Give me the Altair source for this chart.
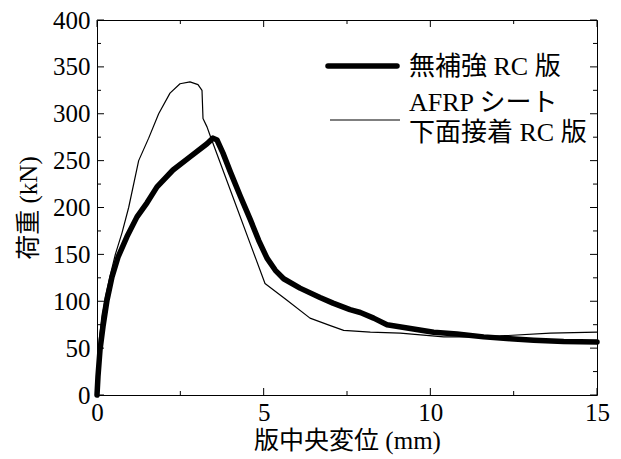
import altair as alt
import pandas as pd

# ---- data ----
unrein_x = [0, 0.03, 0.09, 0.18, 0.3, 0.45, 0.63, 0.9, 1.2, 1.5, 1.8, 2.28, 2.79, 3.3, 3.48, 3.6,
            3.78, 4.0, 4.3, 4.6, 4.85, 5.1, 5.35, 5.6, 6.09, 6.69, 7.08, 7.59, 7.9, 8.3, 8.7,
            9.4, 10.1, 10.8, 11.6, 12.4, 13.1, 14.0, 15.0]
unrein_y = [0, 20, 48, 73, 101, 126, 147, 169, 190, 205, 222, 240, 254, 268, 274, 272,
            258, 238, 212, 187, 165, 146, 133, 124, 114, 104, 98, 91, 88, 82, 75,
            71, 67, 65, 62, 60, 58.5, 57, 56.5]

afrp_x = [0, 0.02, 0.07, 0.15, 0.25, 0.4, 0.55, 0.75, 0.95, 1.25, 1.55, 1.85, 2.19, 2.49, 2.79,
          3.03, 3.15, 3.18, 3.3, 3.39, 4.08, 4.59, 5.04, 5.7, 6.39, 7.0, 7.4, 8.2, 9.1, 10.4,
          11.2, 12.1, 13.6, 15.0]
afrp_y = [0, 30, 60, 85, 105, 128, 150, 173, 200, 250, 274, 300, 322, 332, 334,
          331, 325, 295, 286, 277, 211, 162, 119, 101, 82, 74, 69, 67, 66, 62,
          62, 63, 66, 67]

x_major = [0, 5, 10, 15]
x_minor = [2.5, 7.5, 12.5]
y_major = [0, 50, 100, 150, 200, 250, 300, 350, 400]
y_minor = [25, 75, 125, 175, 225, 275, 325, 375]

legend_labels = ["無補強 RC 版", "AFRP シート", "下面接着 RC 版"]

NUM_FONT = "'Liberation Serif', 'Times New Roman', 'DejaVu Serif', serif"
MIX_FONT = "'Liberation Serif', 'Times New Roman', 'Noto Sans CJK JP', serif"

W, H = 500, 375

xscale = alt.Scale(domain=[0, 15], nice=False, zero=False)
yscale = alt.Scale(domain=[0, 400], nice=False, zero=False)

xaxis = alt.Axis(values=x_major, title="版中央変位 (mm)", labelPadding=5, titlePadding=3,
                 labelFont=NUM_FONT, labelFontSize=25, titleFont=MIX_FONT, titleFontSize=25,
                 titleFontWeight="normal")
yaxis = alt.Axis(values=y_major, title="荷重 (kN)", labelPadding=7, titlePadding=11,
                 labelFont=NUM_FONT, labelFontSize=25, titleFont=MIX_FONT, titleFontSize=25,
                 titleFontWeight="normal")

X = alt.X("x:Q", scale=xscale, axis=xaxis)
Y = alt.Y("y:Q", scale=yscale, axis=yaxis)

df_u = pd.DataFrame({"x": unrein_x, "y": unrein_y})
df_a = pd.DataFrame({"x": afrp_x, "y": afrp_y})

line_a = alt.Chart(df_a).mark_line(color="black", strokeWidth=1.2, strokeJoin="round").encode(x=X, y=Y)
line_u = alt.Chart(df_u).mark_line(color="black", strokeWidth=5.5, strokeJoin="round",
                                   strokeCap="round").encode(x=X, y=Y)

def yticks(vals, length):
    d = pd.DataFrame({"y": vals})
    left = alt.Chart(d).mark_rule(color="black", strokeWidth=1).encode(
        y=Y, x=alt.value(0), x2=alt.value(length))
    right = alt.Chart(d).mark_rule(color="black", strokeWidth=1).encode(
        y=Y, x=alt.value(W), x2=alt.value(W - length))
    return [left, right]

def xticks(vals, length):
    d = pd.DataFrame({"x": vals})
    bottom = alt.Chart(d).mark_rule(color="black", strokeWidth=1).encode(
        x=X, y=alt.value(H), y2=alt.value(H - length))
    top = alt.Chart(d).mark_rule(color="black", strokeWidth=1).encode(
        x=X, y=alt.value(0), y2=alt.value(length))
    return [bottom, top]

ticks = yticks(y_major, 7) + yticks(y_minor, 4) + xticks(x_major, 7) + xticks(x_minor, 4)

# legend (drawn inside the plot, upper right)
leg_d = pd.DataFrame({"t": [legend_labels[0]]})
leg_rule_u = alt.Chart(leg_d).mark_rule(color="black", strokeWidth=5.5, strokeCap="round").encode(
    x=alt.value(231), x2=alt.value(300), y=alt.value(46))
leg_rule_a = alt.Chart(leg_d).mark_rule(color="black", strokeWidth=1.2).encode(
    x=alt.value(233), x2=alt.value(303), y=alt.value(100))

def leg_text(label, ypix):
    return alt.Chart(pd.DataFrame({"t": [label]})).mark_text(
        align="left", baseline="middle", font=MIX_FONT, fontSize=26, color="black").encode(
        x=alt.value(312), y=alt.value(ypix), text="t:N")

texts = [leg_text(legend_labels[0], 47), leg_text(legend_labels[1], 83), leg_text(legend_labels[2], 113)]

chart = alt.layer(line_a, line_u, *ticks, leg_rule_u, leg_rule_a, *texts).properties(
    width=W, height=H,
    autosize=alt.AutoSizeParams(type="none"),
    padding={"left": 89, "top": 12, "right": 16, "bottom": 62},
).configure(font=MIX_FONT).configure_view(stroke="black", strokeWidth=1).configure_axis(
    ticks=False, domain=False, grid=False, labelFlush=False,
    labelFont=NUM_FONT, labelFontSize=25, labelColor="black",
    titleFont=MIX_FONT, titleFontSize=25, titleFontWeight="normal", titleColor="black",
)

chart.save("out.html", embed_options={"renderer": "svg", "actions": False})
